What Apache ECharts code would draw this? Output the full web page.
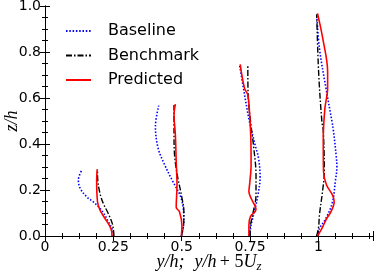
<!DOCTYPE html>
<html><head><meta charset="utf-8">
<script src="https://cdn.jsdelivr.net/npm/echarts@6/dist/echarts.min.js"></script>
<style>html,body{margin:0;padding:0;background:#fff}#c{width:374px;height:272px}</style>
</head><body><div id="c"></div>
<script>
// Profile data: [x, z] pairs, x = y/h + 5Uz, z = z/h
const baseline1 = [[0.25,0],[0.247,0.026],[0.232,0.062],[0.214,0.1],[0.195,0.128],[0.176,0.149],[0.152,0.171],[0.129,0.207],[0.122,0.243],[0.134,0.285]];
const benchmark1 = [[0.252,0],[0.251,0.02],[0.246,0.055],[0.231,0.099],[0.213,0.142],[0.201,0.186],[0.193,0.243],[0.192,0.29]];
const predicted1 = [[0.245,0],[0.244,0.02],[0.236,0.045],[0.219,0.077],[0.201,0.113],[0.192,0.15],[0.189,0.243],[0.191,0.29]];

const baseline2 = [[0.499,0],[0.508,0.062],[0.506,0.12],[0.494,0.178],[0.468,0.236],[0.438,0.309],[0.414,0.381],[0.404,0.475],[0.416,0.567]];
const benchmark2 = [[0.499,0],[0.507,0.048],[0.508,0.106],[0.499,0.178],[0.484,0.265],[0.474,0.352],[0.472,0.45],[0.472,0.57]];
const predicted2 = [[0.499,0],[0.501,0.045],[0.492,0.105],[0.48,0.125],[0.483,0.222],[0.48,0.323],[0.477,0.439],[0.472,0.526],[0.477,0.573]];

const baseline3 = [[0.748,0],[0.754,0.048],[0.766,0.106],[0.779,0.178],[0.787,0.255],[0.781,0.34],[0.77,0.39],[0.748,0.497],[0.724,0.657],[0.712,0.743]];
const benchmark3 = [[0.748,0],[0.752,0.048],[0.762,0.106],[0.772,0.178],[0.772,0.265],[0.764,0.381],[0.752,0.497],[0.743,0.617],[0.742,0.743]];
const predicted3 = [[0.746,0],[0.746,0.048],[0.752,0.085],[0.772,0.115],[0.754,0.164],[0.746,0.193],[0.749,0.229],[0.754,0.309],[0.753,0.425],[0.748,0.541],[0.742,0.613],[0.73,0.642],[0.714,0.746]];

const baseline4 = [[0.994,0],[1.004,0.033],[1.028,0.077],[1.052,0.149],[1.062,0.236],[1.068,0.3],[1.065,0.352],[1.055,0.46],[1.05,0.497],[1.028,0.642],[1.004,0.816],[0.994,0.964]];
const benchmark4 = [[0.994,0],[1.001,0.04],[1.004,0.091],[1.016,0.2],[1.022,0.28],[1.018,0.46],[1.013,0.497],[1.001,0.714],[0.994,0.964]];
const predicted4 = [[0.997,0],[1.016,0.04],[1.03,0.075],[1.046,0.105],[1.058,0.149],[1.052,0.178],[1.03,0.222],[1.019,0.28],[1.018,0.42],[1.024,0.555],[1.034,0.642],[1.034,0.714],[1.016,0.86],[0.997,0.968]];

const seriesNames = ['Baseline','Benchmark','Predicted'];
const xTicks = {min:0, max:1.2, interval:0.25};
const yTicks = {min:0, max:1.0, interval:0.2};

const styles = {
  Baseline: {color:'#0000ff', width:1.6, type:[1.5,1.8]},
  Benchmark: {color:'#000000', width:1.4, type:[6,2,1.5,2]},
  Predicted: {color:'#ff0000', width:1.6, type:'solid'}
};
const groups = {
  Baseline: [baseline1, baseline2, baseline3, baseline4],
  Benchmark: [benchmark1, benchmark2, benchmark3, benchmark4],
  Predicted: [predicted1, predicted2, predicted3, predicted4]
};

const series = [];
seriesNames.forEach(name => {
  groups[name].forEach(d => {
    series.push({
      name, type:'line', data:d, symbol:'none', smooth:0.35, animation:false,
      lineStyle:{color:styles[name].color, width:styles[name].width, type:styles[name].type},
      itemStyle:{color:styles[name].color}
    });
  });
});

const tickCommon = {
  axisLine:{show:true, lineStyle:{color:'#000', width:1}},
  axisTick:{show:true, inside:true, length:5, lineStyle:{color:'#000'}},
  minorTick:{show:true, splitNumber:4, length:3, lineStyle:{color:'#000'}},
  splitLine:{show:false}
};

const chart = echarts.init(document.getElementById('c'), null, {renderer:'canvas'});
chart.setOption({
  backgroundColor:'#fff',
  animation:false,
  grid:{left:45, right:1, top:6, bottom:36, containLabel:false, outerBoundsMode:'none'},
  legend:{
    data:seriesNames, orient:'vertical', left:65, top:23, padding:0,
    itemWidth:25, itemHeight:14, itemGap:8.5,
    itemStyle:{opacity:0},
    textStyle:{fontFamily:'DejaVu Sans', fontSize:16, color:'#000', padding:[0,0,0,12]}
  },
  xAxis:[
    Object.assign({type:'value', position:'bottom', min:xTicks.min, max:xTicks.max, interval:xTicks.interval,
      axisLabel:{show:true, showMaxLabel:false, margin:4, color:'#000', fontFamily:'DejaVu Sans', fontSize:14},
      name:'{i|y/h;}   {i|y/h} {n|+ 5}{i|U}{s|z}', nameLocation:'middle', nameGap:16, nameMoveOverlap:false,
      nameTextStyle:{rich:{
        i:{fontFamily:'Liberation Serif', fontStyle:'italic', fontSize:18, color:'#000'},
        n:{fontFamily:'Liberation Serif', fontSize:18, color:'#000'},
        s:{fontFamily:'Liberation Serif', fontStyle:'italic', fontSize:13, color:'#000', padding:[8,0,0,0]}
      }}
    }, tickCommon),
    Object.assign({type:'value', position:'top', min:xTicks.min, max:xTicks.max, interval:xTicks.interval,
      axisLabel:{show:false}}, tickCommon)
  ],
  yAxis:[
    Object.assign({type:'value', position:'left', min:yTicks.min, max:yTicks.max, interval:yTicks.interval,
      axisLabel:{show:true, margin:4, color:'#000', fontFamily:'DejaVu Sans', fontSize:14, formatter:v=>v.toFixed(1)},
      name:'z/h', nameLocation:'middle', nameGap:24, nameMoveOverlap:false,
      nameTextStyle:{fontFamily:'Liberation Serif', fontStyle:'italic', fontSize:18, color:'#000'}
    }, tickCommon),
    Object.assign({type:'value', position:'right', min:yTicks.min, max:yTicks.max, interval:yTicks.interval,
      axisLabel:{show:false}}, tickCommon)
  ],
  series
});
</script>
</body></html>
